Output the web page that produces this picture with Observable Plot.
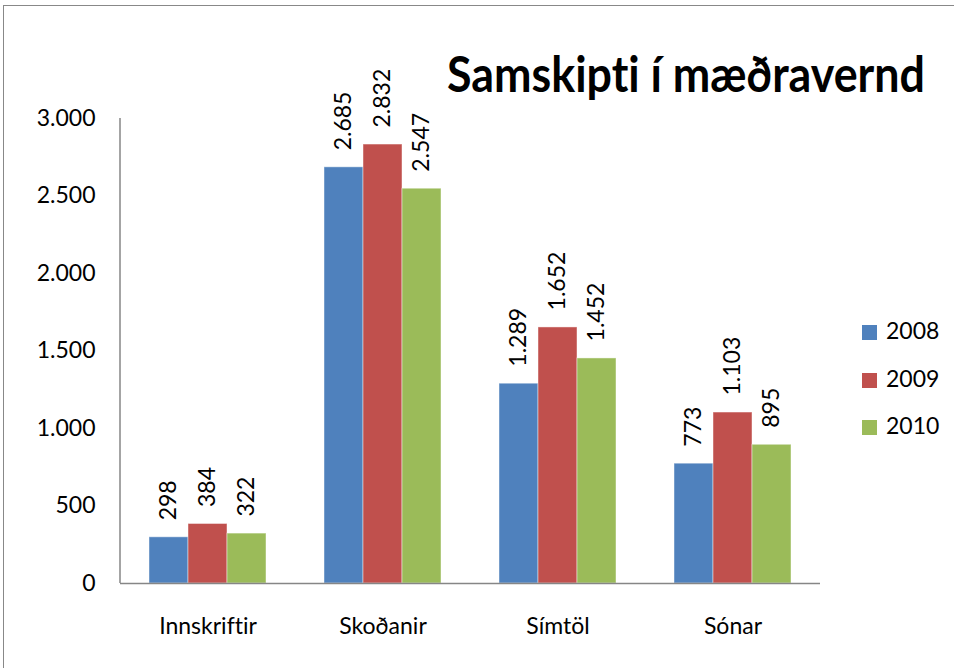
<!DOCTYPE html>
<html>
<head>
<meta charset="utf-8">
<script src="https://cdn.jsdelivr.net/npm/d3@7"></script>
<script src="https://cdn.jsdelivr.net/npm/@observablehq/plot@0.6"></script>
<style>
  html, body { margin: 0; padding: 0; background: #fff; }
  * { font-variant-ligatures: none; font-feature-settings: "liga" 0, "clig" 0, "dlig" 0; }
  #wrap { position: relative; width: 954px; height: 668px; overflow: hidden; font-family: Lato, sans-serif; }
  #border { position: absolute; left: 3px; top: 5px; right: -10px; bottom: -10px; border-top: 1.5px solid #888; border-left: 1.5px solid #888; }
  #title { position: absolute; left: 447px; top: 48px; font-size: 50px; font-weight: 700; line-height: 1; white-space: nowrap; transform-origin: 0 0; color: #000; }
  #legend { position: absolute; left: 862px; top: 325px; }
  .row { position: relative; height: 15px; margin-bottom: 32.5px; display: flex; align-items: center; }
  .sw { width: 15px; height: 15px; }
  .lab { font-size: 23px; line-height: 15px; margin-left: 9px; position: relative; top: -2px; color: #000; }
  svg { position: absolute; left: 0; top: 0; }
  svg text { font-variant-ligatures: none; }
</style>
</head>
<body>
<div id="wrap">
  <div id="border"></div>
</div>
<script>
const categories = ["Innskriftir", "Skoðanir", "Símtöl", "Sónar"];
const years = ["2008", "2009", "2010"];
const values2008 = [298, 2685, 1289, 773];
const values2009 = [384, 2832, 1652, 1103];
const values2010 = [322, 2547, 1452, 895];
const yTicks = [0, 500, 1000, 1500, 2000, 2500, 3000];
const colors = ["#4F81BD", "#C0504D", "#9BBB59"];
const titleText = "Samskipti í mæðravernd";

const series = [values2008, values2009, values2010];
const data = categories.flatMap((c, i) => years.map((yr, j) => ({category: c, year: yr, value: series[j][i]})));

const fmt = d3.formatLocale({decimal: ",", thousands: ".", grouping: [3], currency: ["", ""]}).format(",d");

const ml = 120, mr = 134, mt = 118, mb = 85;

const chart = Plot.plot({
  width: 954,
  height: 668,
  marginLeft: ml,
  marginRight: mr,
  marginTop: mt,
  marginBottom: mb,
  style: {fontFamily: "Lato, sans-serif", fontSize: "23px", background: "transparent", color: "#000", overflow: "visible"},
  fx: {domain: categories, padding: 0, label: null, round: false},
  x: {domain: years, paddingInner: 0, paddingOuter: 0.7436, axis: null, round: false},
  y: {domain: [0, 3000], label: null},
  color: {domain: years, range: colors},
  marks: [
    Plot.barY(data, {fx: "category", x: "year", y: "value", fill: "year", stroke: "#fff", strokeOpacity: 0.45, strokeWidth: 1}),
    Plot.text(data, {fx: "category", x: "year", y: "value", text: d => fmt(d.value), rotate: -90, textAnchor: "start", dy: -17, fill: "#000", fontSize: 23}),
    Plot.ruleY([0], {stroke: "#868686", strokeWidth: 1.5}),
    Plot.axisY({ticks: yTicks, tickFormat: fmt, tickSize: 0, tickPadding: 25, label: null, fill: "#000", fontSize: 23}),
    Plot.axisFx({anchor: "bottom", tickSize: 0, tickPadding: 34, label: null, fill: "#000", fontSize: 23})
  ]
});

const y = chart.scale("y");
d3.select(chart).append("line")
  .attr("x1", ml).attr("x2", ml)
  .attr("y1", y.apply(0)).attr("y2", y.apply(3000))
  .attr("stroke", "#868686").attr("stroke-width", 1.5);

const wrap = document.getElementById("wrap");
wrap.appendChild(chart);

const title = document.createElement("div");
title.id = "title";
title.textContent = titleText;
wrap.appendChild(title);
const w = title.getBoundingClientRect().width;
title.style.transform = `scaleX(${478 / w})`;

const legend = document.createElement("div");
legend.id = "legend";
years.forEach((yr, j) => {
  const row = document.createElement("div");
  row.className = "row";
  const sw = document.createElement("div");
  sw.className = "sw";
  sw.style.background = colors[j];
  const lab = document.createElement("span");
  lab.className = "lab";
  lab.textContent = yr;
  row.appendChild(sw);
  row.appendChild(lab);
  legend.appendChild(row);
});
wrap.appendChild(legend);
</script>
</body>
</html>
